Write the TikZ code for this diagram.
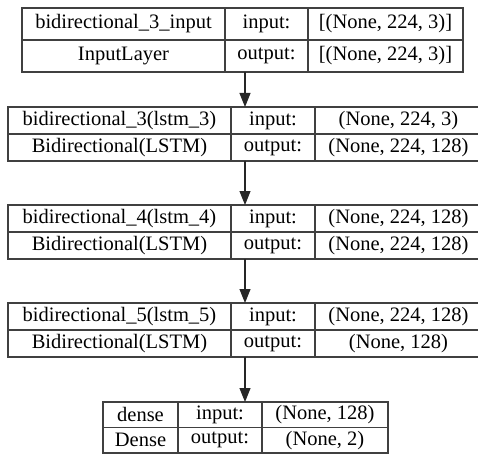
\documentclass[tikz,border=0pt]{standalone}
\usepackage{fontspec}
\setmainfont{Liberation Serif}
\newfontfamily\layerfont{Liberation Serif}
\usetikzlibrary{arrows.meta}

\begin{document}
\begin{tikzpicture}[x=1pt, y=-1pt, >={Triangle[length=14pt, width=11pt]}, line width=1.1pt,
    every node/.style={font=\layerfont\fontsize{20.5}{24}\selectfont, text=black},
    cell/.style={draw=black!75, inner sep=0pt, outer sep=0pt},
    frame/.style={inner sep=0pt, outer sep=0pt}]
    \useasboundingbox (0,0) rectangle (478,454);

    \node[frame, minimum width=441, minimum height=64] (l1) at (242.5,40) {};
    \node[cell, minimum width=203, minimum height=32] (l1name) at (123.5,24) {bidirectional\_3\_input};
    \node[cell, minimum width=83, minimum height=32] (l1in) at (266.5,24) {input:};
    \node[cell, minimum width=155, minimum height=32] (l1inshape) at (385.5,24) {[(None, 224, 3)]};
    \node[cell, minimum width=203, minimum height=32] (l1type) at (123.5,56) {InputLayer};
    \node[cell, minimum width=83, minimum height=32] (l1out) at (266.5,56) {output:};
    \node[cell, minimum width=155, minimum height=32] (l1outshape) at (385.5,56) {[(None, 224, 3)]};

    \node[frame, minimum width=474, minimum height=54] (l2) at (245,134) {};
    \node[cell, minimum width=223, minimum height=27] (l2name) at (119.5,120.5) {bidirectional\_3(lstm\_3)};
    \node[cell, minimum width=84, minimum height=27] (l2in) at (273,120.5) {input:};
    \node[cell, minimum width=167, minimum height=27] (l2inshape) at (398.5,120.5) {(None, 224, 3)};
    \node[cell, minimum width=223, minimum height=27] (l2type) at (119.5,147.5) {Bidirectional(LSTM)};
    \node[cell, minimum width=84, minimum height=27] (l2out) at (273,147.5) {output:};
    \node[cell, minimum width=167, minimum height=27] (l2outshape) at (398.5,147.5) {(None, 224, 128)};

    \node[frame, minimum width=474, minimum height=54] (l3) at (245,232) {};
    \node[cell, minimum width=223, minimum height=27] (l3name) at (119.5,218.5) {bidirectional\_4(lstm\_4)};
    \node[cell, minimum width=84, minimum height=27] (l3in) at (273,218.5) {input:};
    \node[cell, minimum width=167, minimum height=27] (l3inshape) at (398.5,218.5) {(None, 224, 128)};
    \node[cell, minimum width=223, minimum height=27] (l3type) at (119.5,245.5) {Bidirectional(LSTM)};
    \node[cell, minimum width=84, minimum height=27] (l3out) at (273,245.5) {output:};
    \node[cell, minimum width=167, minimum height=27] (l3outshape) at (398.5,245.5) {(None, 224, 128)};

    \node[frame, minimum width=474, minimum height=54] (l4) at (245,330) {};
    \node[cell, minimum width=223, minimum height=27] (l4name) at (119.5,316.5) {bidirectional\_5(lstm\_5)};
    \node[cell, minimum width=84, minimum height=27] (l4in) at (273,316.5) {input:};
    \node[cell, minimum width=167, minimum height=27] (l4inshape) at (398.5,316.5) {(None, 224, 128)};
    \node[cell, minimum width=223, minimum height=27] (l4type) at (119.5,343.5) {Bidirectional(LSTM)};
    \node[cell, minimum width=84, minimum height=27] (l4out) at (273,343.5) {output:};
    \node[cell, minimum width=167, minimum height=27] (l4outshape) at (398.5,343.5) {(None, 128)};

    \node[frame, minimum width=285, minimum height=51] (l5) at (245.5,427.5) {};
    \node[cell, minimum width=75, minimum height=25.5] (l5name) at (140.5,414.75) {dense};
    \node[cell, minimum width=84, minimum height=25.5] (l5in) at (220,414.75) {input:};
    \node[cell, minimum width=126, minimum height=25.5] (l5inshape) at (325,414.75) {(None, 128)};
    \node[cell, minimum width=75, minimum height=25.5] (l5type) at (140.5,440.25) {Dense};
    \node[cell, minimum width=84, minimum height=25.5] (l5out) at (220,440.25) {output:};
    \node[cell, minimum width=126, minimum height=25.5] (l5outshape) at (325,440.25) {(None, 2)};

    \draw[->, black!85] (l1.south -| l2.north) -- (l2.north);
    \draw[->, black!85] (l2.south) -- (l3.north);
    \draw[->, black!85] (l3.south) -- (l4.north);
    \draw[->, black!85] (l4.south) -- (l4.south |- l5.north);
\end{tikzpicture}
\end{document}
